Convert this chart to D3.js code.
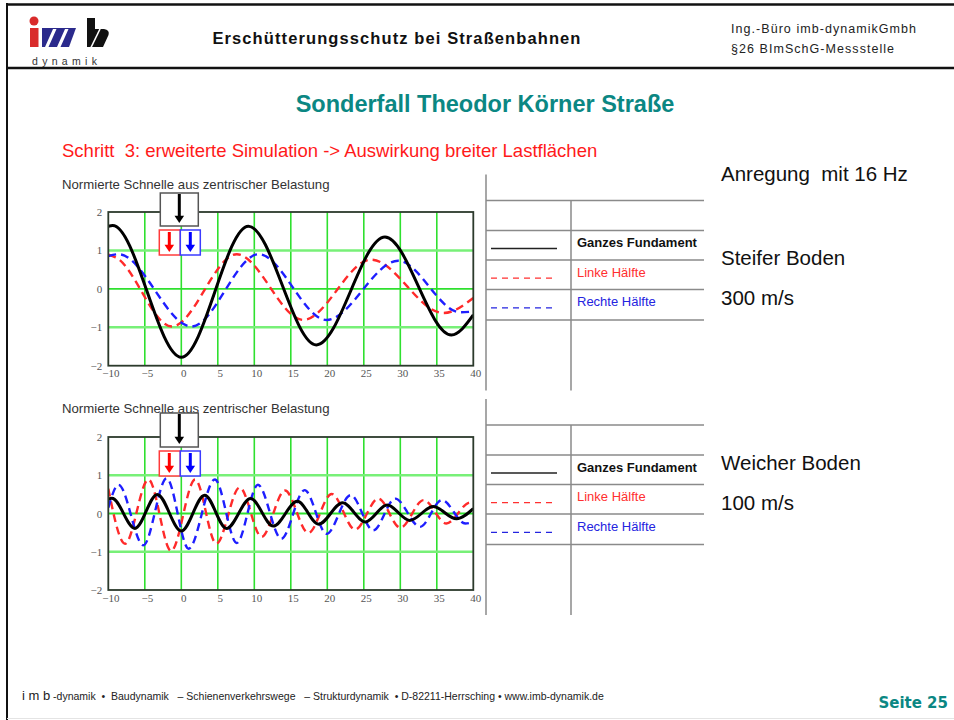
<!DOCTYPE html>
<html>
<head>
<meta charset="utf-8">
<script src="https://cdn.jsdelivr.net/npm/d3@7"></script>
<style>
  body { margin: 0; background: #fff; }
  svg { display: block; font-family: "Liberation Sans", Arial, sans-serif; }
</style>
</head>
<body>
<div id="slide"></div>
<script>
// axis ticks
const xTicks = [-10, -5, 0, 5, 10, 15, 20, 25, 30, 35, 40];
const yTicks = [-2, -1, 0, 1, 2];

// 16 Hz, stiff soil (300 m/s) - read at the peaks and the plot edges
const topBlackX = [-10, -9.4, 0, 9.2, 18.5, 27.9, 37, 40];
const topBlackY = [1.63, 1.65, -1.78, 1.63, -1.46, 1.35, -1.2, -0.68];
const topRedX = [-10, -9, -1.3, 7.6, 16.7, 26, 35.9, 40];
const topRedY = [0.89, 0.82, -0.98, 0.9, -0.81, 0.76, -0.63, -0.24];
const topBlueX = [-10, -8.6, 1.4, 10.6, 19.9, 29.7, 38.2, 40];
const topBlueY = [0.85, 0.9, -0.98, 0.9, -0.81, 0.73, -0.61, -0.59];

// 16 Hz, soft soil (100 m/s) - read at the peaks
const botBlackX = [-10, -9.5, -6.35, -3.3, 0, 3.2, 6.2, 9.5, 12.6, 15.9, 18.8, 22.1, 25.2, 28.2, 31.3, 34.5, 37.7, 40];
const botBlackY = [0.38, 0.4, -0.39, 0.5, -0.46, 0.48, -0.39, 0.39, -0.33, 0.32, -0.28, 0.28, -0.22, 0.22, -0.18, 0.18, -0.14, 0.13];
const botRedX = [-10, -7.7, -4.5, -1.4, 1.9, 4.8, 8, 11, 14.2, 17.4, 20.6, 23.8, 27, 30, 33.2, 36.3, 39.6, 40];
const botRedY = [0.65, -0.79, 0.89, -0.98, 0.89, -0.79, 0.68, -0.61, 0.6, -0.51, 0.51, -0.42, 0.39, -0.37, 0.35, -0.26, 0.29, 0.28];
const botBlueX = [-10, -8.6, -5.2, -2, 1, 4.6, 7.6, 10.5, 13.7, 16.9, 19.9, 23.2, 26.3, 29.3, 32.7, 35.7, 38.9, 40];
const botBlueY = [0.15, 0.75, -0.83, 0.92, -0.92, 0.89, -0.77, 0.75, -0.66, 0.61, -0.53, 0.48, -0.44, 0.39, -0.35, 0.35, -0.26, -0.22];

const legendLabels = ["Ganzes Fundament", "Linke Hälfte", "Rechte Hälfte"];
const chartTitle = "Normierte Schnelle aus zentrischer Belastung";

const W = 954, H = 720;
const teal = "#0b8783";
const red = "#ff2a2a", blue = "#1e1eff";

const svg = d3.select("#slide").append("svg")
    .attr("width", W)
    .attr("height", H);

svg.append("rect").attr("width", W).attr("height", H).attr("fill", "#fff");

// ---- header frame
svg.append("line").attr("x1", 6).attr("x2", W).attr("y1", 4.5).attr("y2", 4.5)
    .attr("stroke", "#111").attr("stroke-width", 2.5);
svg.append("line").attr("x1", 6).attr("x2", W).attr("y1", 68).attr("y2", 68)
    .attr("stroke", "#111").attr("stroke-width", 2.5);
svg.append("line").attr("x1", 7).attr("x2", 7).attr("y1", 3).attr("y2", H)
    .attr("stroke", "#111").attr("stroke-width", 2);
svg.append("line").attr("x1", 7).attr("x2", W).attr("y1", 718.5).attr("y2", 718.5)
    .attr("stroke", "#e4e4e4").attr("stroke-width", 1);

// logo
const logo = svg.append("g");
logo.append("circle").attr("cx", 34).attr("cy", 21).attr("r", 4.5).attr("fill", "#d92b2b");
logo.append("rect").attr("x", 30).attr("y", 28).attr("width", 8.5).attr("height", 19).attr("fill", "#d92b2b");
logo.append("path").attr("d", "M42,28 L76,28 L69,47 L42,47 Z").attr("fill", "#2b2a8c");
logo.append("path").attr("d", "M45,47 L53,29 L56.5,29 L48.5,47 Z M57,47 L65,29 L68.5,29 L60.5,47 Z").attr("fill", "#fff");
logo.append("path").attr("d", "M87,18 L95,18 L95,29 L104,29 Q110,30 108.5,35 L103,47 L87,47 Z").attr("fill", "#111");
logo.append("line").attr("x1", 91).attr("y1", 47.5).attr("x2", 100).attr("y2", 29)
    .attr("stroke", "#fff").attr("stroke-width", 1.6);
logo.append("text").attr("x", 32).attr("y", 64.5)
    .attr("font-size", 10.5).attr("letter-spacing", 4.3).attr("fill", "#333")
    .text("dynamik");

svg.append("text").attr("x", 397).attr("y", 44)
    .attr("text-anchor", "middle").attr("font-weight", "bold").attr("font-size", 16.5)
    .attr("letter-spacing", 1.1)
    .attr("fill", "#111").text("Erschütterungsschutz bei Straßenbahnen");
svg.append("text").attr("x", 731).attr("y", 32.5)
    .attr("font-size", 12.5).attr("letter-spacing", 1.05).attr("fill", "#222").text("Ing.-Büro imb-dynamikGmbh");
svg.append("text").attr("x", 731).attr("y", 52.5)
    .attr("font-size", 12.5).attr("letter-spacing", 1.05).attr("fill", "#222").text("§26 BImSchG-Messstelle");

// ---- headings
svg.append("text").attr("x", 485).attr("y", 112)
    .attr("text-anchor", "middle").attr("font-weight", "bold").attr("font-size", 23.5)
    .attr("fill", teal).text("Sonderfall Theodor Körner Straße");
svg.append("text").attr("x", 62).attr("y", 157)
    .attr("font-size", 18.5).attr("fill", "#ff1a1a").style("white-space", "pre")
    .text("Schritt  3: erweiterte Simulation -> Auswirkung breiter Lastflächen");

// ---- charts
const charts = [
    { top: 212, bottom: 365.7, titleY: 188.5, boxTop: 193, boxBot: 226, smallTop: 230, smallBot: 255, tableTop: 200.5,
      series: [[topRedX, topRedY, red, true], [topBlueX, topBlueY, blue, true], [topBlackX, topBlackY, "#000", false]] },
    { top: 437, bottom: 590, titleY: 413, boxTop: 413, boxBot: 447, smallTop: 451, smallBot: 476, tableTop: 425,
      series: [[botRedX, botRedY, red, true], [botBlueX, botBlueY, blue, true], [botBlackX, botBlackY, "#000", false]] }
];

const x = d3.scaleLinear().domain([-10, 40]).range([108.3, 473.3]);

charts.forEach(c => {
    const y = d3.scaleLinear().domain([-2, 2]).range([c.bottom, c.top]);
    const g = svg.append("g");

    g.append("text").attr("x", 62).attr("y", c.titleY)
        .attr("font-size", 13.2).attr("fill", "#333").text(chartTitle);

    // grid
    g.selectAll(".vgrid").data(xTicks.slice(1, -1)).join("line")
        .attr("x1", d => x(d)).attr("x2", d => x(d))
        .attr("y1", c.top).attr("y2", c.bottom)
        .attr("stroke", "#2fe02f").attr("stroke-width", 1.6);
    g.selectAll(".hgrid").data(yTicks.slice(1, -1)).join("line")
        .attr("x1", x(-10)).attr("x2", x(40))
        .attr("y1", d => y(d)).attr("y2", d => y(d))
        .attr("stroke", d => d === 0 ? "#2fe02f" : "#78f078").attr("stroke-width", d => d === 0 ? 1.8 : 2.6);

    // axes (labels only)
    const ya = g.append("g").attr("transform", `translate(${x(-10)},0)`)
        .call(d3.axisLeft(y).tickValues(yTicks).tickFormat(d3.format("d")).tickSize(0).tickPadding(6));
    const xa = g.append("g").attr("transform", `translate(0,${c.bottom})`)
        .call(d3.axisBottom(x).tickValues(xTicks).tickFormat(d3.format("d")).tickSize(0).tickPadding(4));
    [ya, xa].forEach(a => {
        a.select(".domain").remove();
        a.selectAll("text").attr("font-family", "'Liberation Serif', 'Times New Roman', serif")
            .attr("font-size", 11).attr("fill", "#555");
    });
    xa.selectAll("text").attr("dx", 2);

    // curves
    const clipId = "clip" + c.top;
    g.append("clipPath").attr("id", clipId).append("rect")
        .attr("x", x(-10)).attr("y", c.top).attr("width", x(40) - x(-10)).attr("height", c.bottom - c.top);
    const line = d3.line().x(d => x(d[0])).y(d => y(d[1])).curve(d3.curveMonotoneX);
    c.series.forEach(([xs, ys, col, dashed]) => {
        g.append("path")
            .datum(xs.map((v, i) => [v, ys[i]]))
            .attr("clip-path", `url(#${clipId})`)
            .attr("fill", "none")
            .attr("stroke", col)
            .attr("stroke-width", dashed ? 2.4 : 3)
            .attr("stroke-dasharray", dashed ? "8,5" : null)
            .attr("stroke-linejoin", "round")
            .attr("d", line);
    });

    // plot frame
    g.append("rect").attr("x", x(-10)).attr("y", c.top)
        .attr("width", x(40) - x(-10)).attr("height", c.bottom - c.top)
        .attr("fill", "none").attr("stroke", "#2c3a2c").attr("stroke-width", 1.8);

    // load boxes
    const cx = x(0);
    g.append("rect").attr("x", cx - 21).attr("y", c.boxTop).attr("width", 38).attr("height", c.boxBot - c.boxTop)
        .attr("fill", "#fff").attr("stroke", "#555").attr("stroke-width", 1.5);
    const arrow = (ax, y0, y1, col, w, hw) => {
        g.append("line").attr("x1", ax).attr("x2", ax).attr("y1", y0).attr("y2", y1 - hw)
            .attr("stroke", col).attr("stroke-width", w);
        g.append("path").attr("d", `M${ax - hw * 0.8},${y1 - hw * 1.2} L${ax + hw * 0.8},${y1 - hw * 1.2} L${ax},${y1} Z`)
            .attr("fill", col);
    };
    arrow(cx - 2, c.boxTop + 1, c.boxBot - 3, "#000", 3, 6);
    g.append("rect").attr("x", cx - 22).attr("y", c.smallTop).attr("width", 21).attr("height", c.smallBot - c.smallTop)
        .attr("fill", "#fff").attr("stroke", "#ff3b3b").attr("stroke-width", 1.5);
    g.append("rect").attr("x", cx - 1).attr("y", c.smallTop).attr("width", 20).attr("height", c.smallBot - c.smallTop)
        .attr("fill", "#fff").attr("stroke", "#3b3bff").attr("stroke-width", 1.5);
    arrow(cx - 12, c.smallTop + 2, c.smallBot - 3, "#ff0000", 3, 6);
    arrow(cx + 9, c.smallTop + 2, c.smallBot - 3, "#0000ff", 3, 6);

    // legend table
    const t = c.tableTop;
    const rows = [t, t + 30, t + 59.5, t + 89, t + 119.5];
    const tg = svg.append("g").attr("stroke", "#8a8a8a").attr("stroke-width", 1.5);
    tg.append("line").attr("x1", 486).attr("x2", 486).attr("y1", t - 26).attr("y2", t + 190);
    tg.append("line").attr("x1", 571).attr("x2", 571).attr("y1", t).attr("y2", t + 190);
    tg.selectAll(".row").data(rows).join("line")
        .attr("x1", 486).attr("x2", 704).attr("y1", d => d).attr("y2", d => d);

    const lcol = ["#222", "#ff3030", "#2424e0"];
    legendLabels.forEach((lab, i) => {
        const ry = rows[1] + i * 29.7;
        svg.append("line").attr("x1", 491).attr("x2", 557).attr("y1", ry + 18).attr("y2", ry + 18)
            .attr("stroke", lcol[i]).attr("stroke-width", 1.3)
            .attr("stroke-dasharray", i ? "6,5" : null);
        svg.append("text").attr("x", 577).attr("y", ry + 16.5)
            .attr("font-size", 13).attr("font-weight", i ? "normal" : "bold")
            .attr("fill", i === 0 ? "#111" : lcol[i]).text(lab);
    });
});

// ---- right side notes
const notes = [["Anregung  mit 16 Hz", 181], ["Steifer Boden", 265], ["300 m/s", 305], ["Weicher Boden", 470], ["100 m/s", 510]];
svg.selectAll(".note").data(notes).join("text")
    .attr("x", 721).attr("y", d => d[1])
    .attr("font-size", 20.5).attr("fill", "#111").style("white-space", "pre")
    .text(d => d[0]);

// ---- footer
const foot = svg.append("text").attr("x", 22).attr("y", 700).attr("fill", "#222").style("white-space", "pre");
foot.append("tspan").attr("font-size", 13).text("i m b");
foot.append("tspan").attr("font-size", 10.5)
    .text(" -dynamik  •  Baudynamik   – Schienenverkehrswege   – Strukturdynamik  • D-82211-Herrsching • www.imb-dynamik.de");

svg.append("text").attr("x", 948).attr("y", 708)
    .attr("text-anchor", "end").attr("font-family", "'DejaVu Sans', sans-serif").attr("font-weight", "bold")
    .attr("font-size", 15).attr("fill", teal).text("Seite 25");
</script>
</body>
</html>
